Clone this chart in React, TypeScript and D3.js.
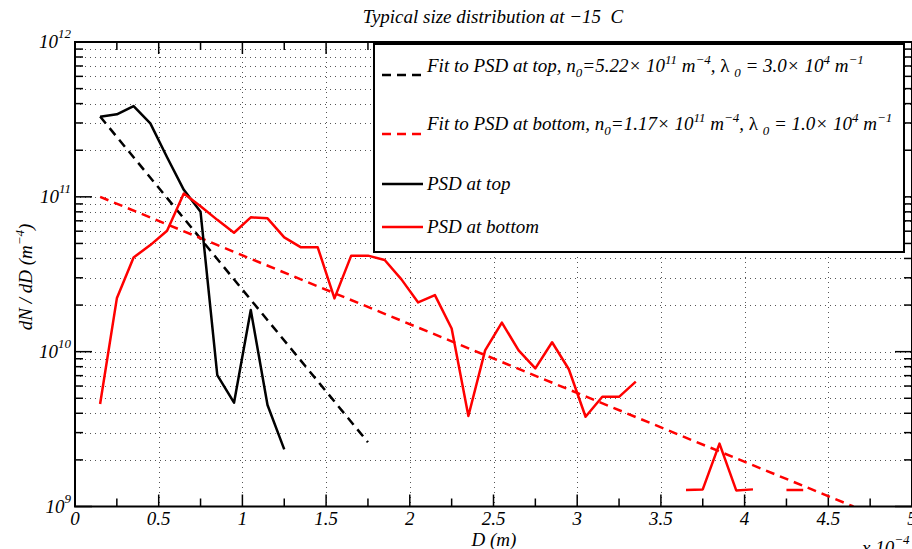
import * as d3 from "d3";

const WIDTH = 912;
const HEIGHT = 549;
const PLOT = { left: 75, right: 912, top: 42, bottom: 506.5 };

// PSD at top (black solid)
const D_TOP = [0.15, 0.25, 0.35, 0.45, 0.55, 0.65, 0.75, 0.85, 0.95, 1.05, 1.15, 1.25];
const PSD_TOP = [3.29e11, 3.41e11, 3.86e11, 2.98e11, 1.8e11, 1.11e11, 8.0e10, 7.06e9, 4.68e9, 1.86e10, 4.52e9, 2.34e9];

// PSD at bottom (red solid), null = no particles (gap)
const D_BOTTOM = [
  0.15, 0.25, 0.35, 0.45, 0.55, 0.65, 0.75, 0.85, 0.95, 1.05, 1.15, 1.25, 1.35, 1.45, 1.55,
  1.65, 1.75, 1.85, 1.95, 2.05, 2.15, 2.25, 2.35, 2.45, 2.55, 2.65, 2.75, 2.85, 2.95, 3.05,
  3.15, 3.25, 3.35, 3.45, 3.55, 3.65, 3.75, 3.85, 3.95, 4.05, 4.15, 4.25, 4.35,
];
const PSD_BOTTOM = [
  4.59e9, 2.21e10, 4.06e10, 4.88e10, 6.04e10, 1.05e11, 8.7e10, 7.1e10, 5.86e10, 7.37e10, 7.26e10,
  5.47e10, 4.72e10, 4.72e10, 2.21e10, 4.17e10, 4.17e10, 3.91e10, 2.93e10, 2.08e10, 2.32e10,
  1.41e10, 3.84e9, 1.02e10, 1.54e10, 1.02e10, 7.8e9, 1.15e10, 7.7e9, 3.8e9, 5.11e9, 5.11e9,
  6.4e9, null, null, 1.28e9, 1.29e9, 2.55e9, 1.27e9, 1.29e9, null, 1.28e9, 1.28e9,
];

// exponential fits (straight in log-y), end points
const FIT_TOP_D = [0.15, 1.75];
const FIT_TOP = [3.3e11, 2.6e9];
const FIT_BOTTOM_D = [0.15, 4.65];
const FIT_BOTTOM = [1.0e11, 1.0e9];

const X_TICKS = [0, 0.5, 1, 1.5, 2, 2.5, 3, 3.5, 4, 4.5, 5];
const X_TICK_LABELS = ["0", "0.5", "1", "1.5", "2", "2.5", "3", "3.5", "4", "4.5", "5"];
const X_MINOR = [0.25, 0.75, 1.25, 1.75, 2.25, 2.75, 3.25, 3.75, 4.25, 4.75];
const Y_EXPONENTS = [9, 10, 11, 12];

const FONT = "Liberation Serif";
const FS = 19; // main text size
const FS_SMALL = 13; // sub/superscripts

const x = d3.scaleLinear().domain([0, 5]).range([PLOT.left, PLOT.right]);
const y = d3.scaleLog().domain([1e9, 1e12]).range([PLOT.bottom, PLOT.top]);

const yMinor: number[] = [];
[9, 10, 11].forEach((e) => {
  for (let k = 2; k <= 9; k++) yMinor.push(k * Math.pow(10, e));
});

type Pt = [number, number | null];
const zip = (a: number[], b: (number | null)[]): Pt[] => a.map((d, i) => [d, b[i]]);

const line = d3
  .line<Pt>()
  .defined((d) => d[1] != null && d[1] > 0)
  .x((d) => x(d[0]))
  .y((d) => y(d[1] as number));

// segments: [text, baseline shift (+ down / - up), upright?]
type Seg = [string, number, boolean?];
const rich = (segs: Seg[]) => {
  let prev = 0;
  return segs.map(([t, shift, upright], i) => {
    const dy = shift - prev;
    prev = shift;
    return (
      <tspan
        key={i}
        dy={dy || undefined}
        fontSize={shift !== 0 ? FS_SMALL : undefined}
        fontStyle={upright ? "normal" : undefined}
      >
        {t}
      </tspan>
    );
  });
};

const SUB = 5;
const SUP = -8;

const LEGEND_TOP: Seg[] = [
  ["Fit to PSD at top, n", 0], ["0", SUB], ["=5.22× 10", 0], ["11", SUP], [" m", 0], ["−4", SUP],
  [", ", 0], ["λ", 0, true], [" ", 0], ["0", SUB], [" = 3.0× 10", 0], ["4", SUP], [" m", 0], ["−1", SUP],
];
const LEGEND_BOTTOM: Seg[] = [
  ["Fit to PSD at bottom, n", 0], ["0", SUB], ["=1.17× 10", 0], ["11", SUP], [" m", 0], ["−4", SUP],
  [", ", 0], ["λ", 0, true], [" ", 0], ["0", SUB], [" = 1.0× 10", 0], ["4", SUP], [" m", 0], ["−1", SUP],
];

export default function App() {
  const legendX = 374;
  const legendY = 44;
  const legendW = 530;
  const legendH = 208;
  const entries = [
    { y: 75, color: "#000", dash: "9,6", label: "top" },
    { y: 134, color: "#ff0000", dash: "9,6", label: "bottom" },
    { y: 184, color: "#000", dash: null, label: "PSD at top" },
    { y: 227, color: "#ff0000", dash: null, label: "PSD at bottom" },
  ];

  return (
    <svg
      width={WIDTH}
      height={HEIGHT}
      style={{ position: "absolute", left: 0, top: 0, background: "#fff" }}
      fontFamily={FONT}
      fontStyle="italic"
    >
      <defs>
        <clipPath id="plot-clip">
          <rect x={PLOT.left} y={PLOT.top} width={PLOT.right - PLOT.left} height={PLOT.bottom - PLOT.top} />
        </clipPath>
      </defs>
      <rect width={WIDTH} height={HEIGHT} fill="#fff" />

      {/* grid */}
      <g stroke="#555" strokeWidth={1} strokeDasharray="1,4" fill="none">
        {[...yMinor, 1e10, 1e11].map((v) => (
          <line key={"gy" + v} x1={PLOT.left} x2={PLOT.right} y1={Math.round(y(v)) + 0.5} y2={Math.round(y(v)) + 0.5} />
        ))}
        {X_TICKS.slice(1, -1).map((v) => (
          <line key={"gx" + v} x1={Math.round(x(v)) + 0.5} x2={Math.round(x(v)) + 0.5} y1={PLOT.top} y2={PLOT.bottom} />
        ))}
      </g>

      {/* ticks */}
      <g stroke="#000" strokeWidth={1.5}>
        {X_TICKS.map((v) => (
          <g key={"tx" + v}>
            <line x1={x(v)} x2={x(v)} y1={PLOT.bottom} y2={PLOT.bottom - 12} />
            <line x1={x(v)} x2={x(v)} y1={PLOT.top} y2={PLOT.top + 12} />
          </g>
        ))}
        {X_MINOR.map((v) => (
          <g key={"mx" + v}>
            <line x1={x(v)} x2={x(v)} y1={PLOT.bottom} y2={PLOT.bottom - 8} />
            <line x1={x(v)} x2={x(v)} y1={PLOT.top} y2={PLOT.top + 8} />
          </g>
        ))}
        {Y_EXPONENTS.map((e) => (
          <g key={"ty" + e}>
            <line x1={PLOT.left} x2={PLOT.left + 17} y1={y(Math.pow(10, e))} y2={y(Math.pow(10, e))} />
            <line x1={PLOT.right} x2={PLOT.right - 17} y1={y(Math.pow(10, e))} y2={y(Math.pow(10, e))} />
          </g>
        ))}
        {yMinor.map((v) => (
          <g key={"my" + v}>
            <line x1={PLOT.left} x2={PLOT.left + 8} y1={y(v)} y2={y(v)} />
            <line x1={PLOT.right} x2={PLOT.right - 8} y1={y(v)} y2={y(v)} />
          </g>
        ))}
      </g>

      {/* data */}
      <g clipPath="url(#plot-clip)" fill="none" strokeWidth={2.5} strokeLinejoin="round">
        <path d={line(zip(FIT_TOP_D, FIT_TOP)) || ""} stroke="#000" strokeDasharray="9,6" />
        <path d={line(zip(FIT_BOTTOM_D, FIT_BOTTOM)) || ""} stroke="#ff0000" strokeDasharray="9,6" />
        <path d={line(zip(D_TOP, PSD_TOP)) || ""} stroke="#000" />
        <path d={line(zip(D_BOTTOM, PSD_BOTTOM)) || ""} stroke="#ff0000" />
      </g>

      {/* axes box */}
      <rect
        x={PLOT.left}
        y={PLOT.top}
        width={PLOT.right - PLOT.left}
        height={PLOT.bottom - PLOT.top}
        fill="none"
        stroke="#000"
        strokeWidth={2}
      />

      {/* tick labels */}
      <g fontSize={FS} fill="#000">
        {X_TICKS.map((v, i) => (
          <text key={"lx" + v} x={x(v)} y={525} textAnchor="middle">
            {X_TICK_LABELS[i]}
          </text>
        ))}
        {Y_EXPONENTS.map((e) => (
          <text key={"ly" + e} x={71} y={y(Math.pow(10, e)) + 6} textAnchor="end">
            {rich([["10", 0], [String(e), -10]])}
          </text>
        ))}
      </g>

      {/* exponent of x axis */}
      <text x={862} y={554} fontSize={FS}>
        {rich([["x 10", 0], ["−4", -10]])}
      </text>

      {/* axis labels and title */}
      <text x={494} y={546} fontSize={FS} textAnchor="middle">D (m)</text>
      <text transform="translate(32,277) rotate(-90)" fontSize={FS} textAnchor="middle">
        {rich([["dN / dD (m", 0], ["−4", -8], [")", 0]])}
      </text>
      <text x={493} y={23} fontSize={FS} textAnchor="middle" style={{ whiteSpace: "pre" }}>
        Typical size distribution at −15  C
      </text>

      {/* legend */}
      <g>
        <rect x={legendX} y={legendY} width={legendW} height={legendH} fill="#fff" stroke="#000" strokeWidth={2} />
        {entries.map((en) => (
          <line
            key={en.label}
            x1={382}
            x2={423}
            y1={en.y}
            y2={en.y}
            stroke={en.color}
            strokeWidth={2.5}
            strokeDasharray={en.dash || undefined}
          />
        ))}
        <g fontSize={FS} fill="#000" style={{ whiteSpace: "pre" }}>
          <text x={427} y={72}>{rich(LEGEND_TOP)}</text>
          <text x={427} y={130}>{rich(LEGEND_BOTTOM)}</text>
          <text x={427} y={190}>PSD at top</text>
          <text x={427} y={233}>PSD at bottom</text>
        </g>
      </g>
    </svg>
  );
}
